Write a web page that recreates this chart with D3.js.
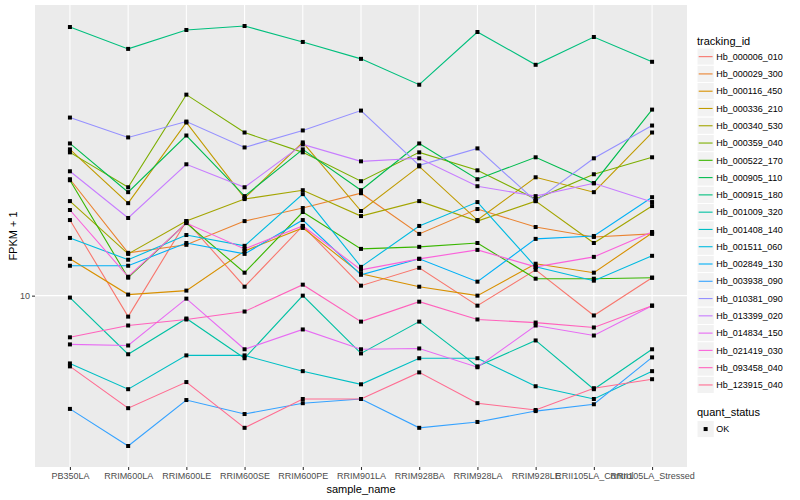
<!DOCTYPE html>
<html>
<head>
<meta charset="utf-8">
<script src="https://d3js.org/d3.v7.min.js"></script>
<style>
body { margin: 0; background: #fff; }
text { font-family: "Liberation Sans", Arial, sans-serif; }
</style>
</head>
<body>
<svg width="800" height="500"></svg>
<script>
var samples = ["PB350LA", "RRIM600LA", "RRIM600LE", "RRIM600SE", "RRIM600PE", "RRIM901LA",
    "RRIM928BA", "RRIM928LA", "RRIM928LE", "RRII105LA_Control", "RRII105LA_Stressed"];

var trackingIds = ["Hb_000006_010", "Hb_000029_300", "Hb_000116_450", "Hb_000336_210", "Hb_000340_530",
    "Hb_000359_040", "Hb_000522_170", "Hb_000905_110", "Hb_000915_180", "Hb_001009_320",
    "Hb_001408_140", "Hb_001511_060", "Hb_002849_130", "Hb_003938_090", "Hb_010381_090",
    "Hb_013399_020", "Hb_014834_150", "Hb_021419_030", "Hb_093458_040", "Hb_123915_040"];

// FPKM + 1, one array per gene, in sample order
var hb_000006_010 = [14.27, 9.06, 14.20, 10.43, 13.88, 10.48, 11.40, 9.54, 11.29, 9.11, 10.88];
var hb_000029_300 = [17.29, 12.23, 12.70, 14.20, 15.10, 16.19, 13.37, 15.03, 13.81, 13.18, 13.37];
var hb_000116_450 = [11.89, 10.05, 10.24, 12.34, 13.75, 11.08, 10.43, 10.00, 11.62, 11.14, 13.43];
var hb_000336_210 = [19.90, 15.45, 22.58, 15.82, 20.56, 14.89, 18.37, 14.27, 17.45, 16.27, 21.54];
var hb_000340_530 = [15.60, 12.17, 14.20, 15.75, 16.42, 14.54, 15.60, 14.20, 15.60, 12.81, 15.24];
var hb_000359_040 = [19.62, 16.65, 25.74, 21.54, 19.62, 17.13, 19.62, 18.03, 15.75, 17.70, 19.17];
var hb_000522_170 = [17.21, 10.88, 14.07, 11.14, 14.82, 12.46, 12.58, 12.81, 10.83, 10.83, 10.88];
var hb_000905_110 = [20.46, 16.27, 21.24, 15.97, 19.90, 16.42, 20.46, 17.29, 19.17, 16.97, 23.99];
var hb_000915_180 = [35.38, 31.92, 34.89, 35.55, 32.98, 30.46, 26.97, 34.56, 29.62, 33.76, 30.04];
var hb_001009_320 = [9.91, 7.59, 8.98, 7.45, 10.00, 7.62, 8.85, 7.17, 8.10, 6.44, 7.77];
var hb_001408_140 = [7.27, 6.44, 7.55, 7.55, 7.01, 6.59, 7.45, 7.45, 6.53, 6.15, 7.01];
var hb_001511_060 = [13.12, 11.84, 13.30, 12.64, 16.12, 11.45, 13.88, 15.53, 11.45, 10.73, 12.06];
var hb_002849_130 = [11.51, 11.51, 12.81, 12.17, 14.27, 11.03, 11.89, 10.68, 13.06, 13.24, 15.89];
var hb_003938_090 = [5.87, 4.93, 6.12, 5.73, 6.03, 6.15, 5.37, 5.52, 5.81, 6.00, 7.48];
var hb_010381_090 = [23.11, 21.05, 22.68, 20.08, 21.75, 23.88, 18.46, 19.99, 15.60, 19.08, 22.26];
var hb_013399_020 = [17.95, 14.41, 18.55, 16.65, 20.37, 18.81, 19.08, 16.73, 15.97, 16.97, 15.53];
var hb_014834_150 = [7.95, 7.91, 9.86, 7.77, 8.53, 7.77, 7.80, 7.14, 8.69, 8.29, 9.54];
var hb_021419_030 = [14.96, 10.93, 14.07, 12.46, 13.88, 11.29, 11.89, 12.40, 11.45, 12.00, 13.49];
var hb_093458_040 = [8.22, 8.69, 8.94, 9.28, 10.53, 8.85, 9.72, 8.94, 8.81, 8.61, 9.54];
var hb_123915_040 = [7.17, 5.89, 6.66, 5.37, 6.15, 6.15, 6.97, 6.03, 5.84, 6.47, 6.75];

var yTicks = [10];
var quantStatus = ["OK"];

var fpkm = [hb_000006_010, hb_000029_300, hb_000116_450, hb_000336_210, hb_000340_530,
    hb_000359_040, hb_000522_170, hb_000905_110, hb_000915_180, hb_001009_320,
    hb_001408_140, hb_001511_060, hb_002849_130, hb_003938_090, hb_010381_090,
    hb_013399_020, hb_014834_150, hb_021419_030, hb_093458_040, hb_123915_040];

// ggplot default hue palette for 20 levels
var palette = ["#F8766D", "#EA8331", "#D89000", "#C09B00", "#A3A500", "#7CAE00", "#39B600",
    "#00BB4E", "#00BF7D", "#00C1A3", "#00BFC4", "#00BAE0", "#00B0F6", "#35A2FF", "#9590FF",
    "#C77CFF", "#E76BF3", "#FA62DB", "#FF62BC", "#FF6C91"];

var data = trackingIds.map(function(id, i) {
    return {id: id, values: samples.map(function(s, j) { return {sample: s, value: fpkm[i][j]}; })};
});

var svg = d3.select("svg"),
    margin = {top: 5, right: 113, bottom: 33, left: 35},
    width = 800 - margin.left - margin.right,
    height = 500 - margin.top - margin.bottom,
    g = svg.append("g").attr("transform", "translate(" + margin.left + "," + margin.top + ")");

var x = d3.scalePoint().domain(samples).range([0, width]).padding(0.6);

// log scale with ggplot's 5% expansion
var allVals = [].concat.apply([], fpkm),
    lo = Math.log10(d3.min(allVals)),
    hi = Math.log10(d3.max(allVals)),
    pad = (hi - lo) * 0.05;
var y = d3.scaleLog().domain([Math.pow(10, lo - pad), Math.pow(10, hi + pad)]).range([height, 0]);

var z = d3.scaleOrdinal().domain(trackingIds).range(palette);

var line = d3.line()
    .x(function(d) { return x(d.sample); })
    .y(function(d) { return y(d.value); });

// panel
g.append("rect")
    .attr("width", width)
    .attr("height", height)
    .attr("fill", "#EBEBEB");

g.selectAll(".vgrid")
    .data(samples)
    .enter().append("line")
    .attr("x1", function(d) { return x(d); })
    .attr("x2", function(d) { return x(d); })
    .attr("y1", 0)
    .attr("y2", height)
    .attr("stroke", "#fff")
    .attr("stroke-width", 1.07);

g.selectAll(".hgrid")
    .data(yTicks)
    .enter().append("line")
    .attr("x1", 0)
    .attr("x2", width)
    .attr("y1", function(d) { return y(d); })
    .attr("y2", function(d) { return y(d); })
    .attr("stroke", "#fff")
    .attr("stroke-width", 1.07);

// axes
var xAxis = g.append("g")
    .attr("transform", "translate(0," + height + ")")
    .call(d3.axisBottom(x).tickSize(3).tickPadding(3));

var yAxis = g.append("g")
    .call(d3.axisLeft(y).tickValues(yTicks).tickFormat(d3.format("d")).tickSize(3).tickPadding(2));

[xAxis, yAxis].forEach(function(a) {
    a.select(".domain").remove();
    a.selectAll(".tick line").attr("stroke", "#333333").attr("stroke-width", 1.07);
    a.selectAll(".tick text")
        .attr("fill", "#4D4D4D")
        .style("font-size", "9px")
        .style("font-family", "'Liberation Sans', Arial, sans-serif");
});

svg.append("text")
    .attr("x", margin.left + width / 2)
    .attr("y", 493)
    .attr("text-anchor", "middle")
    .style("font-size", "11px")
    .text("sample_name");

svg.append("text")
    .attr("transform", "translate(17," + (margin.top + height / 2) + ") rotate(-90)")
    .attr("text-anchor", "middle")
    .style("font-size", "11px")
    .text("FPKM + 1");

// lines then points
var gene = g.selectAll(".gene")
    .data(data)
    .enter().append("g")
    .attr("class", "gene");

gene.append("path")
    .attr("d", function(d) { return line(d.values); })
    .attr("fill", "none")
    .attr("stroke", function(d) { return z(d.id); })
    .attr("stroke-width", 1.1);

g.selectAll(".pts")
    .data(data)
    .enter().append("g")
    .selectAll("rect")
    .data(function(d) { return d.values; })
    .enter().append("rect")
    .attr("x", function(d) { return x(d.sample) - 2; })
    .attr("y", function(d) { return y(d.value) - 2; })
    .attr("width", 4)
    .attr("height", 4)
    .attr("fill", "#000");

// legend: tracking_id
var lx = 697, keySize = 17.28;
var legend = svg.append("g");

legend.append("text")
    .attr("x", lx)
    .attr("y", 45)
    .style("font-size", "11px")
    .text("tracking_id");

var item = legend.selectAll(".item")
    .data(trackingIds)
    .enter().append("g")
    .attr("transform", function(d, i) { return "translate(" + lx + "," + (48 + i * keySize) + ")"; });

item.append("rect")
    .attr("width", keySize)
    .attr("height", keySize)
    .attr("fill", "#F2F2F2")
    .attr("stroke", "#fff")
    .attr("stroke-width", 1);

item.append("line")
    .attr("x1", 1.7)
    .attr("x2", keySize - 1.7)
    .attr("y1", keySize / 2)
    .attr("y2", keySize / 2)
    .attr("stroke", function(d) { return z(d); })
    .attr("stroke-width", 1.1);

item.append("text")
    .attr("x", keySize + 2)
    .attr("y", keySize / 2 + 3.2)
    .style("font-size", "9px")
    .text(function(d) { return d; });

// legend: quant_status
legend.append("text")
    .attr("x", lx)
    .attr("y", 416)
    .style("font-size", "11px")
    .text("quant_status");

var qs = legend.selectAll(".qs")
    .data(quantStatus)
    .enter().append("g")
    .attr("transform", function(d, i) { return "translate(" + lx + "," + (420.4 + i * keySize) + ")"; });

qs.append("rect")
    .attr("width", keySize)
    .attr("height", keySize)
    .attr("fill", "#F2F2F2")
    .attr("stroke", "#fff");

qs.append("rect")
    .attr("x", keySize / 2 - 2)
    .attr("y", keySize / 2 - 2)
    .attr("width", 4)
    .attr("height", 4)
    .attr("fill", "#000");

qs.append("text")
    .attr("x", keySize + 2)
    .attr("y", keySize / 2 + 3.2)
    .style("font-size", "9px")
    .text(function(d) { return d; });
</script>
</body>
</html>
